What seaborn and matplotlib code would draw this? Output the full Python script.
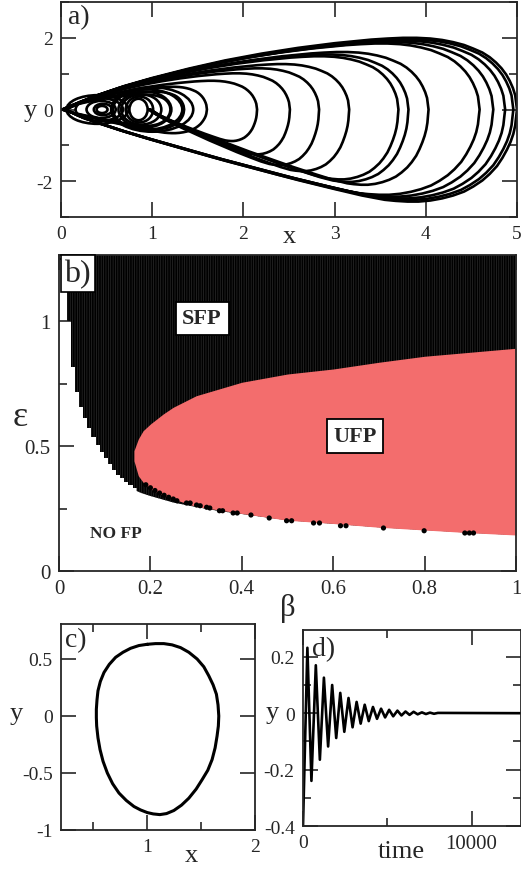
import numpy as np
import pandas as pd
import matplotlib
matplotlib.use("Agg")
import matplotlib.pyplot as plt
import seaborn as sns
from matplotlib.patches import Ellipse
from matplotlib.ticker import MultipleLocator, FuncFormatter

# ---------------- Panel a: trajectory (loops) ----------------
# shape of the largest loop: upper half then lower half
tmpl_up_x = [0.05, 0.20, 0.40, 0.70, 1.00, 1.40, 1.80, 2.20, 2.60, 3.00, 3.40, 3.58, 3.75, 3.90,
             4.05, 4.18, 4.30, 4.42, 4.52, 4.62, 4.70, 4.77, 4.83, 4.88, 4.92, 4.955, 4.98, 4.99, 5.00]
tmpl_up_y = [0.00, 0.18, 0.40, 0.66, 0.88, 1.14, 1.37, 1.56, 1.72, 1.85, 1.95, 1.98, 2.00, 2.00,
             1.98, 1.94, 1.88, 1.80, 1.70, 1.59, 1.46, 1.31, 1.15, 0.98, 0.80, 0.60, 0.40, 0.20, 0.00]
tmpl_lo_x = [5.00, 4.99, 4.98, 4.96, 4.93, 4.89, 4.84, 4.78, 4.70, 4.62, 4.52, 4.42, 4.30, 4.18,
             4.05, 3.92, 3.80, 3.67, 3.55, 3.30, 3.00, 2.60, 2.20, 1.80, 1.40, 1.00, 0.70, 0.40, 0.20, 0.05]
tmpl_lo_y = [0.00, -0.22, -0.45, -0.68, -0.90, -1.12, -1.35, -1.58, -1.80, -1.98, -2.15, -2.29, -2.40, -2.48,
             -2.54, -2.57, -2.57, -2.55, -2.52, -2.40, -2.22, -1.97, -1.70, -1.43, -1.14, -0.85, -0.62, -0.37, -0.18, 0.00]
# loops returning to the origin
loopA_xmax = [5.00, 4.96, 4.87, 4.74, 4.59, 1.60, 1.35, 1.20]
loopA_top = [2.02, 1.98, 1.94, 1.90, 1.86, 0.64, 0.50, 0.42]
loopA_bot = [-2.57, -2.52, -2.48, -2.43, -2.38, -0.66, -0.55, -0.46]
# loops returning to the inner spiral
loopB_xmax = [4.03, 3.81, 3.70, 3.16, 2.83, 2.51, 2.15]
loopB_top = [1.62, 1.55, 1.50, 1.28, 1.16, 1.02, 0.81]
loopB_bot = [-2.10, -2.02, -1.95, -1.72, -1.55, -1.25, -0.88]
loopB_start = 0.95
# small inner loops (centre x, half width, half height)
ell_cx = [0.45, 0.46, 0.44, 0.42, 0.40, 0.85, 0.86, 0.88, 0.92, 0.95, 1.00]
ell_rx = [0.06, 0.10, 0.16, 0.26, 0.34, 0.10, 0.15, 0.22, 0.29, 0.38, 0.45]
ell_ry = [0.10, 0.16, 0.24, 0.32, 0.40, 0.30, 0.36, 0.42, 0.50, 0.56, 0.62]

# ---------------- Panel b: phase diagram ----------------
stair_beta = [0.008, 0.017, 0.026, 0.035, 0.044, 0.053, 0.062, 0.071, 0.080, 0.089, 0.098,
              0.107, 0.116, 0.125, 0.134, 0.143, 0.152, 0.161, 0.170, 0.179]
stair_eps = [1.20, 1.00, 0.817, 0.717, 0.657, 0.611, 0.571, 0.537, 0.504, 0.477, 0.451,
             0.427, 0.404, 0.384, 0.371, 0.357, 0.344, 0.331, 0.320, 0.320]
sfp_beta = [0.170, 0.180, 0.200, 0.250, 0.300, 0.350, 0.400, 0.500, 0.600, 0.700, 0.800, 0.900, 1.000]
sfp_low = [0.320, 0.312, 0.300, 0.274, 0.256, 0.240, 0.228, 0.203, 0.189, 0.175, 0.164, 0.153, 0.144]
ufp_beta = [0.164, 0.1735, 0.184, 0.200, 0.228, 0.250, 0.300, 0.400, 0.500, 0.600, 0.700, 0.800, 0.900, 1.000]
ufp_top = [0.481, 0.528, 0.561, 0.588, 0.628, 0.655, 0.701, 0.755, 0.788, 0.808, 0.835, 0.859, 0.875, 0.891]
ufp_bot = [0.441, 0.381, 0.355, 0.328, 0.302, 0.288, 0.258, 0.230, 0.203, 0.190, 0.175, 0.164, 0.153, 0.144]
dot_beta = [0.19, 0.20, 0.21, 0.22, 0.23, 0.24, 0.25, 0.258, 0.279, 0.287, 0.301, 0.309, 0.323,
            0.330, 0.351, 0.358, 0.381, 0.390, 0.420, 0.460, 0.498, 0.509, 0.557, 0.570,
            0.616, 0.628, 0.710, 0.799, 0.888, 0.898, 0.907]
dot_eps = [0.345, 0.333, 0.322, 0.312, 0.303, 0.295, 0.288, 0.281, 0.272, 0.272, 0.264, 0.261, 0.255,
           0.252, 0.241, 0.241, 0.232, 0.232, 0.224, 0.212, 0.201, 0.201, 0.192, 0.192,
           0.181, 0.181, 0.172, 0.161, 0.152, 0.152, 0.152]

# ---------------- Panel c: limit cycle ----------------
cyc_x = [1.000, 1.077, 1.154, 1.231, 1.309, 1.386, 1.463, 1.525, 1.571, 1.611, 1.642, 1.657, 1.664,
         1.660, 1.648, 1.630, 1.602, 1.562, 1.509, 1.454, 1.386, 1.318, 1.247, 1.179, 1.117, 1.056,
         1.000, 0.938, 0.877, 0.806, 0.738, 0.679, 0.630, 0.590, 0.562, 0.543, 0.531, 0.528, 0.528,
         0.534, 0.543, 0.565, 0.599, 0.648, 0.707, 0.775, 0.846, 0.923, 1.000]
cyc_y = [0.629, 0.635, 0.635, 0.624, 0.600, 0.559, 0.500, 0.432, 0.353, 0.274, 0.191, 0.097, 0.000,
         -0.088, -0.176, -0.279, -0.382, -0.476, -0.559, -0.641, -0.721, -0.782, -0.829, -0.856, -0.865, -0.859,
         -0.847, -0.824, -0.794, -0.741, -0.676, -0.594, -0.500, -0.397, -0.294, -0.191, -0.088, -0.015, 0.059,
         0.141, 0.221, 0.303, 0.382, 0.453, 0.515, 0.559, 0.594, 0.618, 0.629]

# ---------------- Panel d: damped oscillation (extrema) ----------------
ts_time = [0, 260, 500, 760, 1000, 1240, 1490, 1730, 1970, 2210, 2450, 2700, 2940, 3180, 3420,
           3660, 3900, 4150, 4390, 4630, 4870, 5110, 5350, 5600, 5840, 6080, 6320, 6560, 6800,
           7050, 7290, 7530, 7770, 8000, 12900]
ts_y = [-0.40, 0.232, -0.240, 0.170, -0.165, 0.126, -0.118, 0.100, -0.088, 0.072, -0.066, 0.054,
        -0.050, 0.040, -0.037, 0.030, -0.028, 0.022, -0.020, 0.016, -0.015, 0.012, -0.011, 0.009,
        -0.008, 0.006, -0.006, 0.005, -0.004, 0.003, -0.003, 0.002, -0.002, 0.001, 0.0]
d_xticks = [0, 10000]
d_xticklabels = ["0", "10000"]

# ---------------- style ----------------
sns.set_style("ticks")
plt.rcParams["font.family"] = ["Liberation Serif", "DejaVu Serif"]
plt.rcParams["axes.unicode_minus"] = False
plt.rcParams["axes.linewidth"] = 1.3
plt.rcParams["hatch.linewidth"] = 0.5

W, H = 521, 870
fig = plt.figure(figsize=(W / 100, H / 100), dpi=100)


def add_ax(l, r, t, b):
    return fig.add_axes([l / W, 1 - b / H, (r - l) / W, (b - t) / H])


def style(ax, lab=14):
    ax.tick_params(which="both", direction="in", top=True, right=True, width=1.2,
                   labelsize=lab, pad=6)
    ax.tick_params(which="major", length=11)
    ax.tick_params(which="minor", length=5.5)
    for s in ax.spines.values():
        s.set_linewidth(1.3)
        s.set_visible(True)


fmt = FuncFormatter(lambda v, p: "%g" % round(v, 6))
LW = 1.9

# ---- panel a
axa = add_ax(61, 517, 3, 218)
ux_up = np.array(tmpl_up_x) / 5.0
vy_up = np.array(tmpl_up_y) / 2.02
ux_lo = np.array(tmpl_lo_x) / 5.0
vy_lo = np.array(tmpl_lo_y) / 2.57
rows = []
for i, (X, Ht, Hb) in enumerate(zip(loopA_xmax, loopA_top, loopA_bot)):
    xs = np.concatenate([ux_up * X, ux_lo * X])
    ys = np.concatenate([vy_up * Ht, vy_lo * abs(Hb)])
    rows += [("A%d" % i, a, b) for a, b in zip(xs, ys)]
for i, (X, Ht, Hb) in enumerate(zip(loopB_xmax, loopB_top, loopB_bot)):
    xs = np.concatenate([ux_up * X, loopB_start + ux_lo * (X - loopB_start)])
    ys = np.concatenate([vy_up * Ht, vy_lo * abs(Hb)])
    rows += [("B%d" % i, a, b) for a, b in zip(xs, ys)]
dfa = pd.DataFrame(rows, columns=["loop", "x", "y"])
sns.lineplot(data=dfa, x="x", y="y", units="loop", estimator=None, sort=False,
             color="black", lw=LW, ax=axa, legend=False)
for cx, rx, ry in zip(ell_cx, ell_rx, ell_ry):
    axa.add_patch(Ellipse((cx, 0.0), 2 * rx, 2 * ry, fill=False, ec="black", lw=LW))
axa.set_xlim(0, 5)
axa.set_ylim(-3, 3)
axa.xaxis.set_major_locator(MultipleLocator(1))
axa.yaxis.set_major_locator(MultipleLocator(2))
axa.yaxis.set_minor_locator(MultipleLocator(1))
style(axa)
axa.set_xlabel("x", fontsize=19)
axa.xaxis.set_label_coords(0.5, -0.035)
axa.set_ylabel("y", fontsize=19, rotation=0, va="center", ha="center")
axa.yaxis.set_label_coords(-0.068, 0.5)
axa.text(0.015, 0.99, "a)", transform=axa.transAxes, fontsize=20, va="top", ha="left")

# ---- panel b
axb = add_ax(59, 516, 256, 572)
RED = "#f36d6d"
axb.fill_between(stair_beta, stair_eps, 1.4, step="post", facecolor="black",
                 edgecolor="#2c2c2c", hatch="|" * 7, lw=0)
axb.fill_between(sfp_beta, sfp_low, 1.4, facecolor="black",
                 edgecolor="#2c2c2c", hatch="|" * 7, lw=0)
axb.fill_between(ufp_beta, ufp_bot, ufp_top, color=RED, lw=0)
sns.scatterplot(x=dot_beta, y=dot_eps, color="black", s=14, edgecolor="none", ax=axb)
axb.set_xlim(0, 1)
axb.set_ylim(0, 1.264)
axb.xaxis.set_major_locator(MultipleLocator(0.2))
axb.yaxis.set_major_locator(MultipleLocator(0.5))
axb.yaxis.set_minor_locator(MultipleLocator(0.25))
axb.xaxis.set_major_formatter(fmt)
axb.yaxis.set_major_formatter(fmt)
style(axb, lab=15)
axb.set_xlabel("β", fontsize=22)
axb.xaxis.set_label_coords(0.5, -0.07)
axb.set_ylabel("ε", fontsize=26, rotation=0, va="center", ha="center")
axb.yaxis.set_label_coords(-0.085, 0.49)
box = dict(boxstyle="square,pad=0.3", fc="white", ec="black", lw=1.3)
axb.text(0.313, 1.01, "SFP", fontsize=16, fontweight="bold", ha="center", va="center", bbox=box)
axb.text(0.648, 0.54, "UFP", fontsize=16, fontweight="bold", ha="center", va="center", bbox=box)
axb.text(0.125, 0.152, "NO FP", fontsize=12.5, fontweight="bold", ha="center", va="center")
axb.text(0.012, 0.988, "b)", transform=axb.transAxes, fontsize=23, va="top", ha="left",
         bbox=dict(boxstyle="square,pad=0.12", fc="white", ec="black", lw=1.2))

# ---- panel c
axc = add_ax(61, 255, 625, 831)
sns.lineplot(x=cyc_x, y=cyc_y, sort=False, estimator=None, color="black", lw=2.2, ax=axc)
axc.set_xlim(0.2, 2)
axc.set_ylim(-1, 0.807)
axc.xaxis.set_major_locator(MultipleLocator(1))
axc.xaxis.set_minor_locator(MultipleLocator(0.5))
axc.yaxis.set_major_locator(MultipleLocator(0.5))
axc.xaxis.set_major_formatter(fmt)
axc.yaxis.set_major_formatter(fmt)
style(axc)
axc.set_xlabel("x", fontsize=19)
axc.xaxis.set_label_coords(0.67, -0.07)
axc.set_ylabel("y", fontsize=19, rotation=0, va="center", ha="center")
axc.yaxis.set_label_coords(-0.23, 0.57)
axc.text(0.02, 0.985, "c)", transform=axc.transAxes, fontsize=20, va="top", ha="left")

# ---- panel d
axd = add_ax(303, 520.5, 631, 827)
sns.lineplot(x=ts_time, y=ts_y, sort=False, estimator=None, color="black", lw=1.9, ax=axd)
axd.set_xlim(0, 12900)
axd.set_ylim(-0.4, 0.295)
axd.set_xticks(d_xticks)
axd.set_xticklabels(d_xticklabels)
axd.xaxis.set_minor_locator(MultipleLocator(5000))
axd.yaxis.set_major_locator(MultipleLocator(0.2))
axd.yaxis.set_minor_locator(MultipleLocator(0.1))
axd.yaxis.set_major_formatter(fmt)
style(axd)
axd.xaxis.get_major_ticks()[1].label1.set_fontsize(15)
axd.set_xlabel("time", fontsize=19)
axd.xaxis.set_label_coords(0.454, -0.07)
axd.set_ylabel("y", fontsize=19, rotation=0, va="center", ha="center")
axd.yaxis.set_label_coords(-0.142, 0.58)
axd.text(0.04, 0.97, "d)", transform=axd.transAxes, fontsize=20, va="top", ha="left")

fig.savefig("out.png", dpi=100)
